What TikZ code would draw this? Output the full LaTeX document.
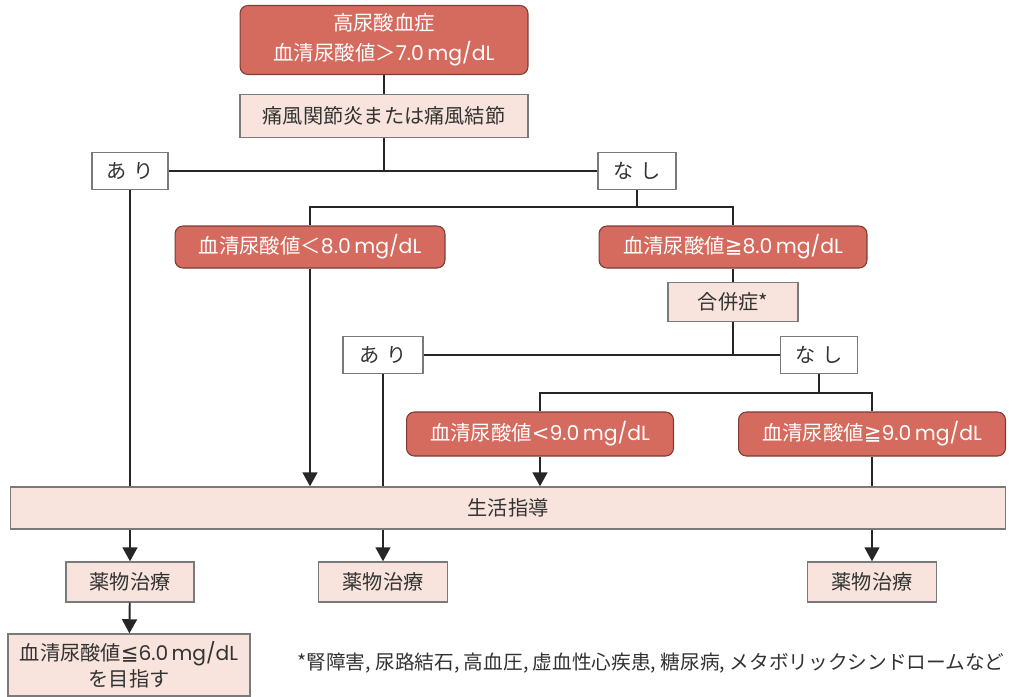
\documentclass[tikz,border=0pt]{standalone}
\usepackage{fontspec}
\setmainfont{Noto Sans CJK JP}
\newfontfamily\numfont{Poppins}
\newfontfamily\symfont{DejaVu Sans}
\newcommand{\uval}[1]{{\numfont #1}}
\newcommand{\urageq}{{\symfont\fontsize{12}{12}\selectfont ≧}}
\newcommand{\uraleq}{{\symfont\fontsize{12}{12}\selectfont ≦}}
\newcommand{\uralt}{{\symfont\fontsize{12}{12}\selectfont <}}
\usetikzlibrary{arrows.meta, positioning, calc}
\definecolor{urared}{HTML}{D56B5E}
\definecolor{uraredline}{HTML}{7E3B34}
\definecolor{urapink}{HTML}{F8E4DC}
\definecolor{uragray}{HTML}{7A7A7A}
\definecolor{uratext}{HTML}{333333}

\begin{document}
\begin{tikzpicture}[
    x=0.02cm, y=-0.02cm,
    redbox/.style={rectangle, draw=uraredline, fill=urared, text=white, line width=0.6pt, rounded corners=4.5pt, inner sep=0pt, align=center, font=\fontsize{11.6}{17}\selectfont},
    pinkbox/.style={rectangle, draw=uragray, fill=urapink, text=uratext, line width=0.8pt, inner sep=0pt, align=center, font=\fontsize{11.5}{15}\selectfont},
    choice/.style={rectangle, draw=uragray, fill=white, text=uratext, line width=0.8pt, inner sep=0pt, minimum height=0.74cm, font=\fontsize{11.5}{13}\selectfont},
    link/.style={line width=1.1pt, draw=black!85},
    arrow/.style={link, -{Triangle[width=8.5pt,length=8pt]}}
]
\useasboundingbox (0,0) rectangle (1012,697);

% first level
\node[redbox, minimum width=5.76cm, minimum height=1.38cm] (hyper) at (384,40) {高尿酸血症\\血清尿酸値＞\uval{7.0\,mg/dL}};
\node[pinkbox, minimum width=5.76cm, minimum height=0.86cm] (gout) at (384,116) {痛風関節炎または痛風結節};
\node[choice, minimum width=1.52cm] (ari1) at (130,171) {あ\hspace{0.35em}り};
\node[choice, minimum width=1.56cm] (nashi1) at (637,171) {な\hspace{0.35em}し};
\draw[link] (hyper) -- (gout);
\draw[link] (gout) -- (gout |- ari1);
\draw[link] (ari1) -- (nashi1);

% second level
\coordinate (split1) at (637,207);
\node[redbox, minimum width=5.4cm, minimum height=0.84cm] (lt8) at (310,247) {血清尿酸値＜\uval{8.0\,mg/dL}};
\node[redbox, minimum width=5.36cm, minimum height=0.84cm] (ge8) at (733,247) {血清尿酸値\urageq\uval{8.0\,mg/dL}};
\node[pinkbox, minimum width=2.6cm, minimum height=0.78cm] (comp) at (733,302) {合併症*};
\draw[link] (nashi1) -- (split1);
\draw[link] (lt8) |- (split1) -| (ge8);
\draw[link] (ge8) -- (comp);

% third level
\node[choice, minimum width=1.6cm] (ari2) at (383,355) {あ\hspace{0.35em}り};
\node[choice, minimum width=1.54cm] (nashi2) at (819,355) {な\hspace{0.35em}し};
\coordinate (split2) at (819,393);
\node[redbox, minimum width=5.34cm, minimum height=0.88cm] (lt9) at (540,434) {血清尿酸値\uralt\uval{9.0\,mg/dL}};
\node[redbox, minimum width=5.34cm, minimum height=0.88cm] (ge9) at (872,434) {血清尿酸値\urageq\uval{9.0\,mg/dL}};
\draw[link] (comp) -- (comp |- ari2);
\draw[link] (ari2) -- (nashi2);
\draw[link] (nashi2) -- (split2);
\draw[link] (lt9) |- (split2) -| (ge9);

% lifestyle guidance
\node[pinkbox, minimum width=19.9cm, minimum height=0.84cm] (life) at (508,508) {生活指導};
\draw[link] (ari1) -- (ari1 |- life.north);
\draw[arrow] (lt8) -- (lt8 |- life.north);
\draw[link] (ari2) -- (ari2 |- life.north);
\draw[arrow] (lt9) -- (lt9 |- life.north);
\draw[link] (ge9) -- (ge9 |- life.north);

% drug therapy
\node[pinkbox, minimum width=2.56cm, minimum height=0.8cm] (drug1) at (130,582) {薬物治療};
\node[pinkbox, minimum width=2.58cm, minimum height=0.8cm] (drug2) at (383,582) {薬物治療};
\node[pinkbox, minimum width=2.58cm, minimum height=0.8cm] (drug3) at (872,582) {薬物治療};
\node[pinkbox, minimum width=4.84cm, minimum height=1.24cm] (goal) at (129,665) {血清尿酸値\uraleq\uval{6.0\,mg/dL}\\を目指す};
\draw[arrow] (drug1 |- life.south) -- (drug1);
\draw[arrow] (drug2 |- life.south) -- (drug2);
\draw[arrow] (drug3 |- life.south) -- (drug3);
\draw[arrow] (drug1) -- (goal);

\node[anchor=east, inner sep=0pt, text=uratext, font=\fontsize{11.2}{12}\selectfont] (note) at (1005,663) {*腎障害, 尿路結石, 高血圧, 虚血性心疾患, 糖尿病, メタボリックシンドロームなど};
\end{tikzpicture}
\end{document}
